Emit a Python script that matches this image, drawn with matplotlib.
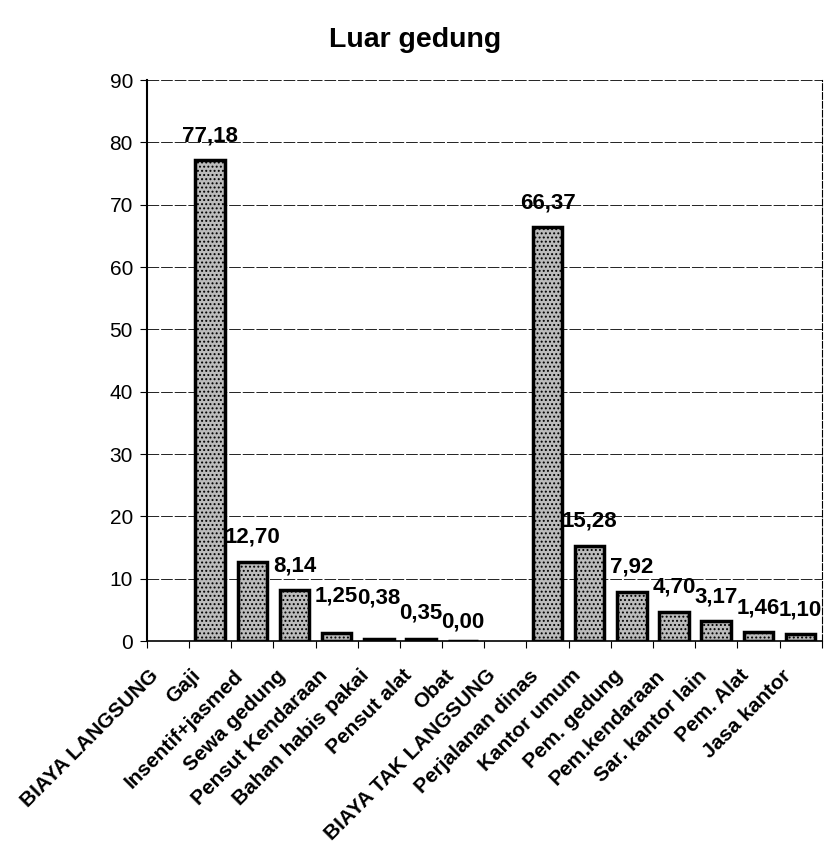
import numpy as np
import matplotlib
matplotlib.use('Agg')
import matplotlib.pyplot as plt
from matplotlib.transforms import ScaledTranslation

plt.rcParams['font.family'] = ['Liberation Sans', 'DejaVu Sans']
plt.rcParams['hatch.linewidth'] = 0.9

kategori = ['BIAYA LANGSUNG', 'Gaji', 'Insentif+jasmed', 'Sewa gedung',
            'Pensut Kendaraan', 'Bahan habis pakai', 'Pensut alat', 'Obat',
            'BIAYA TAK LANGSUNG', 'Perjalanan dinas', 'Kantor umum',
            'Pem. gedung', 'Pem.kendaraan', 'Sar. kantor lain', 'Pem. Alat',
            'Jasa kantor']
# None = judul kelompok, tanpa batang
nilai = [None, 77.18, 12.70, 8.14, 1.25, 0.38, 0.35, 0.00,
         None, 66.37, 15.28, 7.92, 4.70, 3.17, 1.46, 1.10]
y_ticks = [0, 10, 20, 30, 40, 50, 60, 70, 80, 90]

# jarak label nilai di atas batang (pt), yang kecil digeser seperti di Excel
jarak_label = {'Pensut Kendaraan': 19, 'Bahan habis pakai': 22,
               'Pensut alat': 11, 'Obat': 6}

fig = plt.figure(figsize=(8.25, 8.47), dpi=100)
ax = fig.add_axes([0.178, 0.2432, 0.818, 0.6623])

pos = np.arange(len(kategori)) + 0.5
for x, k, v in zip(pos, kategori, nilai):
    if v is None:
        continue
    ax.bar(x, v, width=0.7, facecolor='#bcbcbc', edgecolor='black',
           hatch='....', linewidth=2.5, zorder=3)
    ax.annotate(f'{v:.2f}'.replace('.', ','), (x, v),
                xytext=(0, jarak_label.get(k, 10)),
                textcoords='offset points', ha='center', va='bottom',
                fontsize=16, fontweight='bold', zorder=4)

ax.set_xlim(0, len(kategori))
ax.set_ylim(0, 90)
ax.set_yticks(y_ticks)
ax.tick_params(axis='y', labelsize=15, length=5, direction='out', pad=5)

ax.set_xticks(np.arange(len(kategori) + 1))
ax.set_xticklabels([])
ax.tick_params(axis='x', which='major', length=5, direction='out')
ax.set_xticks(pos, minor=True)
ax.set_xticklabels(kategori, minor=True, rotation=45, ha='right',
                   rotation_mode='anchor', fontsize=15, fontweight='bold')
ax.tick_params(axis='x', which='minor', length=0, pad=18)
geser = ScaledTranslation(-19 / 100, 0, fig.dpi_scale_trans)
for lbl in ax.get_xticklabels(minor=True):
    lbl.set_transform(lbl.get_transform() + geser)

ax.grid(axis='y', color='#222222', linewidth=0.7,
        linestyle=(0, (12, 2)), zorder=0)
ax.spines['top'].set_visible(False)
ax.spines['right'].set_linestyle((0, (6, 2)))
ax.spines['right'].set_linewidth(0.8)
ax.spines['left'].set_linewidth(1.5)
ax.spines['bottom'].set_linewidth(1.2)

fig.text(0.503, 0.953, 'Luar gedung', ha='center', va='center',
         fontsize=20.5, fontweight='bold')

fig.savefig('out.png', dpi=100)
